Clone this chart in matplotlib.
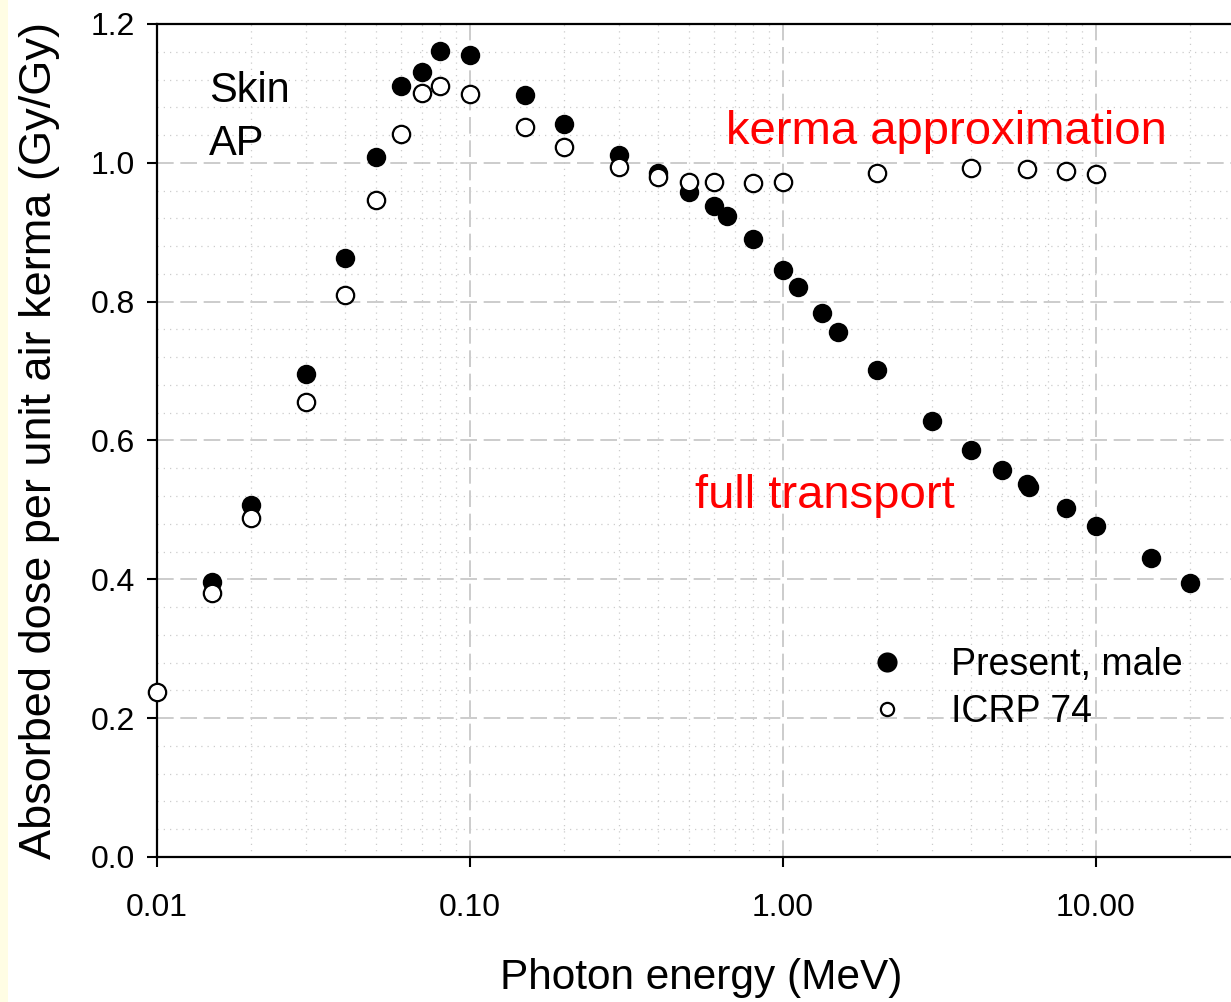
import matplotlib.pyplot as plt
from matplotlib.ticker import FixedLocator, FixedFormatter, MultipleLocator, LogLocator, NullFormatter
from matplotlib.lines import Line2D
from matplotlib.patches import Rectangle

plt.rcParams['font.family'] = ['Liberation Sans', 'DejaVu Sans']

# Present, male (filled)
energy_present = [0.015, 0.02, 0.03, 0.04, 0.05, 0.06, 0.07, 0.08, 0.1, 0.15, 0.2,
                  0.3, 0.4, 0.5, 0.6, 0.662, 0.8, 1.0, 1.117, 1.33, 1.5, 2.0,
                  3.0, 4.0, 5.0, 6.0, 6.13, 8.0, 10.0, 15.0, 20.0]
dose_present = [0.396, 0.507, 0.696, 0.863, 1.009, 1.110, 1.131, 1.161, 1.155, 1.098, 1.056,
                1.012, 0.985, 0.958, 0.938, 0.924, 0.890, 0.846, 0.821, 0.784, 0.756, 0.702,
                0.628, 0.586, 0.558, 0.537, 0.533, 0.503, 0.477, 0.431, 0.395]

# ICRP 74 (open)
energy_icrp = [0.01, 0.015, 0.02, 0.03, 0.04, 0.05, 0.06, 0.07, 0.08, 0.1, 0.15, 0.2,
               0.3, 0.4, 0.5, 0.6, 0.8, 1.0, 2.0, 4.0, 6.0, 8.0, 10.0]
dose_icrp = [0.237, 0.380, 0.488, 0.656, 0.809, 0.947, 1.042, 1.100, 1.111, 1.099, 1.052, 1.023,
             0.994, 0.980, 0.973, 0.973, 0.971, 0.973, 0.986, 0.993, 0.991, 0.988, 0.984]

xticks = [0.01, 0.1, 1.0, 10.0]
xticklabels = ['0.01', '0.10', '1.00', '10.00']
yticks = [0.0, 0.2, 0.4, 0.6, 0.8, 1.0, 1.2]

fig = plt.figure(figsize=(12.31, 10.02), dpi=100)
fig.patches.append(Rectangle((0, 0), 8 / 1231, 1, transform=fig.transFigure,
                             facecolor='#fffde4', edgecolor='none'))
ax = fig.add_axes([157 / 1231, 1 - 857 / 1002, 1 - 157 / 1231, (857 - 24) / 1002])

ax.set_xscale('log')
ax.set_xlim(0.01, 27.0)
ax.set_ylim(0, 1.2)

ax.plot(energy_present, dose_present, 'o', color='black', markersize=14,
        markeredgewidth=0, zorder=3, clip_on=False)
ax.plot(energy_icrp, dose_icrp, 'o', markerfacecolor='white', markeredgecolor='black',
        markersize=12.5, markeredgewidth=1.6, zorder=4, clip_on=False)

ax.xaxis.set_major_locator(FixedLocator(xticks))
ax.xaxis.set_major_formatter(FixedFormatter(xticklabels))
ax.xaxis.set_minor_locator(LogLocator(base=10, subs=range(2, 10)))
ax.xaxis.set_minor_formatter(NullFormatter())
ax.set_yticks(yticks)
ax.set_yticklabels([f'{v:.1f}' for v in yticks])
ax.yaxis.set_minor_locator(MultipleLocator(0.04))

ax.tick_params(which='major', direction='out', length=7, width=1.5, labelsize=23)
ax.tick_params(which='minor', length=0)
ax.tick_params(axis='y', pad=9)
ax.tick_params(axis='x', pad=19)

ax.grid(which='major', color='#c4c4c4', linestyle=(0, (10, 4)), linewidth=1.2, zorder=0)
ax.grid(which='minor', color='#cccccc', linestyle=(0, (1, 4)), linewidth=0.9, zorder=0)
ax.set_axisbelow(True)

for s in ['left', 'bottom', 'top']:
    ax.spines[s].set_linewidth(1.6)
ax.spines['right'].set_visible(False)

ax.set_xlabel('Photon energy (MeV)', fontsize=30.5)
ax.xaxis.set_label_coords(0.5065, -0.121)
ax.set_ylabel('Absorbed dose per unit air kerma (Gy/Gy)', fontsize=32.5, labelpad=22)

ax.text(0.0484, 0.906, 'Skin', transform=ax.transAxes, fontsize=30, va='baseline')
ax.text(0.0484, 0.843, 'AP', transform=ax.transAxes, fontsize=30, va='baseline')
ax.text(0.530, 0.856, 'kerma approximation', transform=ax.transAxes, fontsize=34,
        color='red', va='baseline')
ax.text(0.501, 0.419, 'full transport', transform=ax.transAxes, fontsize=34,
        color='red', va='baseline')

handles = [Line2D([], [], linestyle='none', marker='o', color='black', markersize=14.5,
                  markeredgewidth=0),
           Line2D([], [], linestyle='none', marker='o', markerfacecolor='white',
                  markeredgecolor='black', markersize=9.5, markeredgewidth=1.6)]
ax.legend(handles, ['Present, male', 'ICRP 74'], loc='upper left',
          bbox_to_anchor=(0.645, 0.252), frameon=False, fontsize=27, borderpad=0,
          borderaxespad=0, handlelength=2.0, handletextpad=0.7, labelspacing=0.3)

fig.savefig('out.png', dpi=100)
